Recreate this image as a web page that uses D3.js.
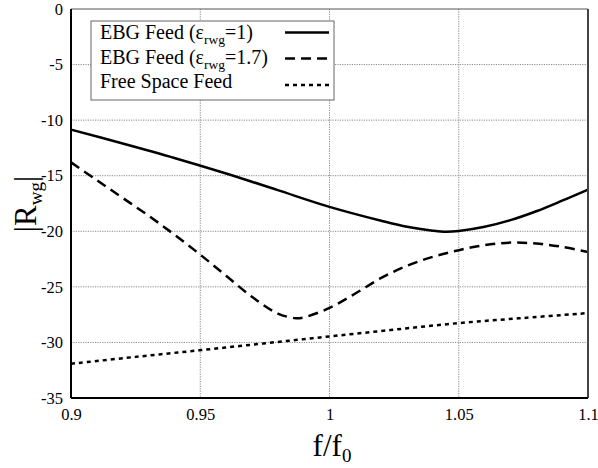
<!DOCTYPE html>
<html>
<head>
<meta charset="utf-8">
<script src="https://cdn.jsdelivr.net/npm/d3@7"></script>
<style>
  html, body { margin: 0; padding: 0; background: #fff; }
  svg, svg text { font-family: "Liberation Serif", "Times New Roman", serif; }
</style>
</head>
<body>
<svg id="chart" width="598" height="468"></svg>
<script>
// Normalised frequency samples and reflection magnitude |R_wg| (dB)
const freqA = [0.90, 0.92, 0.94, 0.96, 0.98, 1.00, 1.02, 1.03, 1.04, 1.045, 1.05, 1.06, 1.07, 1.08, 1.09, 1.10];
const ebgFeed1 = [-10.85, -12.1, -13.4, -14.8, -16.3, -17.8, -19.05, -19.6, -19.95, -20.05, -19.98, -19.6, -19.0, -18.2, -17.25, -16.25];

const freqB = [0.90, 0.91, 0.92, 0.93, 0.94, 0.95, 0.96, 0.97, 0.98, 0.987, 0.99, 1.00, 1.01, 1.02, 1.03, 1.04, 1.05, 1.06, 1.07, 1.08, 1.09, 1.10];
const ebgFeed17 = [-13.8, -15.4, -17.0, -18.6, -20.3, -22.1, -24.0, -25.9, -27.4, -27.82, -27.75, -26.9, -25.6, -24.2, -23.1, -22.3, -21.7, -21.25, -21.02, -21.1, -21.4, -21.86];

const freqC = [0.90, 0.925, 0.95, 0.975, 1.00, 1.025, 1.05, 1.075, 1.10];
const freeSpaceFeed = [-31.92, -31.3, -30.7, -30.08, -29.46, -28.85, -28.26, -27.8, -27.36];

const xTicks = [0.9, 0.95, 1, 1.05, 1.1];
const yTicks = [0, -5, -10, -15, -20, -25, -30, -35];

const legendNames = ["EBG Feed (", "EBG Feed (", "Free Space Feed"];

const FONT = "'Liberation Serif', 'Times New Roman', serif";
const svg = d3.select("#chart");
const margin = { left: 71, right: 10, top: 9, bottom: 70 };
const W = 598, H = 468;

const x = d3.scaleLinear().domain([0.9, 1.1]).range([margin.left, W - margin.right]);
const y = d3.scaleLinear().domain([-35, 0]).range([H - margin.bottom, margin.top]);

// grid
const grid = svg.append("g").attr("stroke", "#8a8a8a").attr("stroke-width", 1).attr("stroke-dasharray", "1.2,1.2");
xTicks.slice(1, -1).forEach(t => {
  grid.append("line").attr("x1", x(t)).attr("x2", x(t)).attr("y1", y(0)).attr("y2", y(-35));
});
yTicks.slice(1, -1).forEach(t => {
  grid.append("line").attr("x1", x(0.9)).attr("x2", x(1.1)).attr("y1", y(t)).attr("y2", y(t));
});

// axes (ticks as labels only)
const xAxis = d3.axisBottom(x).tickValues(xTicks).tickSize(0).tickPadding(10).tickFormat(d => String(d));
const gx = svg.append("g").attr("transform", `translate(0,${y(-35)})`).call(xAxis);
gx.attr("font-family", null).style("font-family", FONT);
gx.select(".domain").remove();
gx.selectAll("text").attr("font-size", 16.5).style("font-family", FONT).attr("fill", "#000");

const yAxis = d3.axisLeft(y).tickValues(yTicks).tickSize(0).tickPadding(8).tickFormat(d => String(d));
const gy = svg.append("g").attr("transform", `translate(${x(0.9)},0)`).call(yAxis);
gy.attr("font-family", null).style("font-family", FONT);
gy.select(".domain").remove();
gy.selectAll("text").attr("font-size", 16.5).style("font-family", FONT).attr("fill", "#000");

// series
const line = d3.line().x(d => x(d[0])).y(d => y(d[1])).curve(d3.curveCatmullRom.alpha(0.5));
const series = [
  { f: freqA, v: ebgFeed1, dash: null },
  { f: freqB, v: ebgFeed17, dash: "10,6" },
  { f: freqC, v: freeSpaceFeed, dash: "4,4" }
];
series.forEach(s => {
  svg.append("path")
    .datum(s.f.map((f, i) => [f, s.v[i]]))
    .attr("d", line)
    .attr("fill", "none")
    .attr("stroke", "#000")
    .attr("stroke-width", 2.5)
    .attr("stroke-dasharray", s.dash);
});

// frame
svg.append("line").attr("x1", x(0.9)).attr("x2", x(1.1)).attr("y1", y(0)).attr("y2", y(0)).attr("stroke", "#555").attr("stroke-width", 1.2);
svg.append("line").attr("x1", x(1.1)).attr("x2", x(1.1)).attr("y1", y(0)).attr("y2", y(-35)).attr("stroke", "#444").attr("stroke-width", 2);
svg.append("line").attr("x1", x(0.9)).attr("x2", x(0.9)).attr("y1", y(0)).attr("y2", y(-35)).attr("stroke", "#000").attr("stroke-width", 2);
svg.append("line").attr("x1", x(0.9)).attr("x2", x(1.1)).attr("y1", y(-35)).attr("y2", y(-35)).attr("stroke", "#000").attr("stroke-width", 2);

// legend
const lg = svg.append("g");
lg.append("rect").attr("x", 91).attr("y", 21).attr("width", 243).attr("height", 79)
  .attr("fill", "#fff").attr("stroke", "#666").attr("stroke-width", 1);
const rows = [39, 63.5, 88];
const sampleY = [32.5, 58.5, 85];
const epsVals = ["=1)", "=1.7)", null];
rows.forEach((by, i) => {
  const t = lg.append("text").attr("x", 100).attr("y", by).attr("font-size", 20).style("font-family", FONT).attr("fill", "#000");
  t.append("tspan").text(legendNames[i]);
  if (epsVals[i]) {
    t.append("tspan").text("ε");
    t.append("tspan").attr("font-size", 13.5).attr("dy", 5).text("rwg");
    t.append("tspan").attr("dy", -5).text(epsVals[i]);
  }
  lg.append("line").attr("x1", 285).attr("x2", 329).attr("y1", sampleY[i]).attr("y2", sampleY[i])
    .attr("stroke", "#000").attr("stroke-width", 2.5)
    .attr("stroke-dasharray", series[i].dash);
});

// axis titles
const xt = svg.append("text").attr("x", 332).attr("y", 456).attr("text-anchor", "middle").attr("font-size", 31).style("font-family", FONT).attr("fill", "#000");
xt.append("tspan").text("f/f");
xt.append("tspan").attr("font-size", 19).attr("dy", 6).text("0");

const yt = svg.append("text").attr("transform", `translate(36,204) rotate(-90)`).attr("text-anchor", "middle").attr("font-size", 31).style("font-family", FONT).attr("fill", "#000");
yt.append("tspan").text("|R");
yt.append("tspan").attr("font-size", 19).attr("dy", 6).text("wg");
yt.append("tspan").attr("dy", -6).text("|");
</script>
</body>
</html>
